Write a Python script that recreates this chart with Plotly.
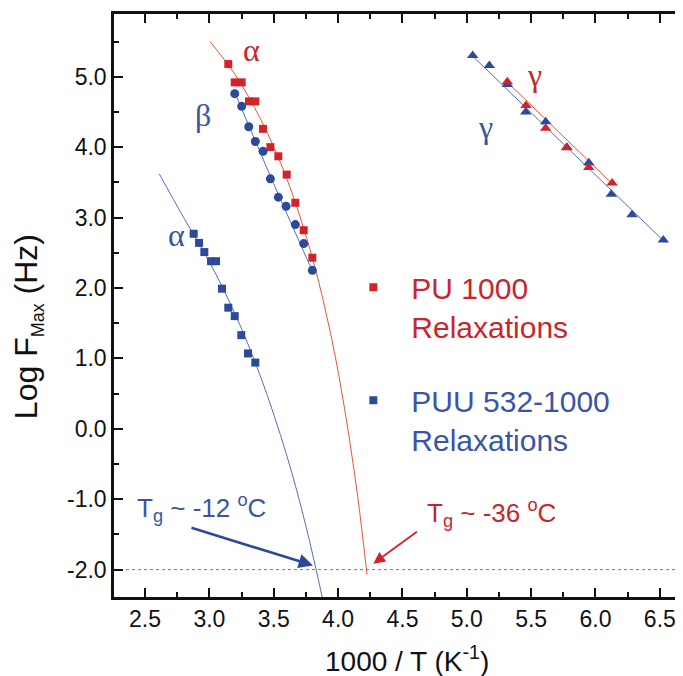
import plotly.graph_objects as go

# ---------------- data ----------------
# PU 1000, alpha relaxation (red squares)
pu_alpha_x = [3.147, 3.197, 3.251, 3.308, 3.357, 3.417, 3.474, 3.536, 3.601, 3.668, 3.733, 3.800]
pu_alpha_y = [5.18, 4.92, 4.92, 4.65, 4.65, 4.26, 4.00, 3.87, 3.61, 3.21, 2.82, 2.43]
# PU 1000, gamma relaxation (red triangles)
pu_gamma_x = [5.315, 5.460, 5.613, 5.777, 5.948, 6.129]
pu_gamma_y = [4.93, 4.59, 4.27, 3.99, 3.71, 3.49]
# PUU 532-1000, alpha relaxation (blue squares)
puu_alpha_x = [2.878, 2.920, 2.961, 3.013, 3.052, 3.098, 3.147, 3.197, 3.248, 3.300, 3.357]
puu_alpha_y = [2.77, 2.64, 2.51, 2.38, 2.38, 1.99, 1.72, 1.60, 1.33, 1.07, 0.94]
# PUU 532-1000, beta relaxation (blue circles)
puu_beta_x = [3.197, 3.251, 3.306, 3.357, 3.417, 3.474, 3.536, 3.596, 3.668, 3.733, 3.800]
puu_beta_y = [4.76, 4.58, 4.29, 4.08, 3.94, 3.55, 3.29, 3.16, 2.90, 2.63, 2.25]
# PUU 532-1000, gamma relaxation (blue triangles)
puu_gamma_x = [5.046, 5.175, 5.315, 5.458, 5.613, 5.777, 5.948, 6.123, 6.284, 6.527]
puu_gamma_y = [5.30, 5.16, 4.89, 4.50, 4.36, 4.00, 3.78, 3.33, 3.04, 2.68]

# fitted curves
pu_alpha_fit_x = [3.005, 3.2, 3.4, 3.6, 3.8, 3.95, 4.05, 4.15, 4.225]
pu_alpha_fit_y = [5.50, 5.03, 4.39, 3.56, 2.43, 1.28, 0.29, -0.93, -2.07]
puu_alpha_fit_x = [2.611, 2.8, 3.0, 3.2, 3.4, 3.6, 3.75, 3.89]
puu_alpha_fit_y = [3.62, 3.00, 2.37, 1.63, 0.73, -0.37, -1.38, -2.50]
puu_beta_fit_x = [3.19, 3.50, 3.81]
puu_beta_fit_y = [4.81, 3.48, 2.20]
pu_gamma_fit_x = [5.30, 6.13]
pu_gamma_fit_y = [4.95, 3.48]
puu_gamma_fit_x = [5.03, 6.54]
puu_gamma_fit_y = [5.32, 2.65]

# axis ticks
x_tickvals = [2.5, 3.0, 3.5, 4.0, 4.5, 5.0, 5.5, 6.0, 6.5]
x_ticktext = ["2.5", "3.0", "3.5", "4.0", "4.5", "5.0", "5.5", "6.0", "6.5"]
y_tickvals = [-2, -1, 0, 1, 2, 3, 4, 5]
y_ticktext = ["-2.0", "-1.0", "0.0", "1.0", "2.0", "3.0", "4.0", "5.0"]

# relaxation labels
relax_labels = ["α", "β", "α", "γ", "γ"]
relax_x = [3.327, 2.951, 2.741, 5.530, 5.142]
relax_y = [5.38, 4.45, 2.75, 5.02, 4.29]
relax_series = ["pu", "puu", "puu", "pu", "puu"]

tg_level = -2.0

# ---------------- styling ----------------
RED = "#d2232a"
BLUE = "#2c4a9a"
RED_LINE = "#e5553c"
BLUE_LINE = "#5b6cb8"
RED_TEXT = "#c9252c"
BLUE_TEXT = "#3a55a5"
FONT = "Liberation Sans, Arial, sans-serif"
SERIF = "Liberation Serif, Times New Roman, serif"


def colored(lines, color):
    return "<br>".join(f"<span style='color:{color}'>{t}</span>" for t in lines)


fig = go.Figure()

def line(x, y, color):
    fig.add_trace(go.Scatter(x=x, y=y, mode="lines", line=dict(color=color, width=1, shape="spline"),
                             showlegend=False, hoverinfo="skip"))

line(pu_alpha_fit_x, pu_alpha_fit_y, RED_LINE)
line(puu_alpha_fit_x, puu_alpha_fit_y, BLUE_LINE)
line(puu_beta_fit_x, puu_beta_fit_y, BLUE_LINE)
line(pu_gamma_fit_x, pu_gamma_fit_y, RED_LINE)
line(puu_gamma_fit_x, puu_gamma_fit_y, BLUE_LINE)

fig.add_trace(go.Scatter(x=pu_alpha_x, y=pu_alpha_y, mode="markers",
                         name=colored(["PU 1000", "Relaxations"], RED_TEXT),
                         marker=dict(symbol="square", size=8, color=RED),
                         legendgroup="pu", showlegend=True))
fig.add_trace(go.Scatter(x=puu_alpha_x, y=puu_alpha_y, mode="markers",
                         name=colored(["PUU 532-1000", "Relaxations"], BLUE_TEXT),
                         marker=dict(symbol="square", size=8, color=BLUE),
                         legendgroup="puu", showlegend=True))
fig.add_trace(go.Scatter(x=puu_beta_x, y=puu_beta_y, mode="markers",
                         marker=dict(symbol="circle", size=9, color=BLUE), showlegend=False))
fig.add_trace(go.Scatter(x=puu_gamma_x, y=puu_gamma_y, mode="markers",
                         marker=dict(symbol="triangle-up", size=10, color=BLUE), showlegend=False))
fig.add_trace(go.Scatter(x=pu_gamma_x, y=pu_gamma_y, mode="markers",
                         marker=dict(symbol="triangle-up", size=10, color=RED), showlegend=False))

# dotted line at log F = -2
fig.add_shape(type="line", xref="paper", x0=0, x1=1, yref="y", y0=tg_level, y1=tg_level,
              line=dict(color="#777777", width=1, dash="dot"), layer="below")

# Greek labels
for t, x, y, s in zip(relax_labels, relax_x, relax_y, relax_series):
    fig.add_annotation(x=x, y=y, text=t, showarrow=False,
                       font=dict(family=SERIF, size=32, color=RED_TEXT if s == "pu" else BLUE_TEXT))

# Tg annotations
fig.add_annotation(x=3.805, y=-1.94, ax=-123, ay=-38, text="", showarrow=True,
                   arrowhead=2, arrowsize=1.1, arrowwidth=2.6, arrowcolor=BLUE)
fig.add_annotation(x=4.274, y=-1.915, ax=45, ay=-33, text="", showarrow=True,
                   arrowhead=2, arrowsize=1.3, arrowwidth=1.8, arrowcolor=RED)
fig.add_annotation(x=2.422, y=-1.12, xanchor="left", text="T<sub>g</sub> ~ -12 <sup>o</sup>C",
                   showarrow=False, font=dict(family=FONT, size=26, color=BLUE_TEXT))
fig.add_annotation(x=4.676, y=-1.19, xanchor="left", text="T<sub>g</sub> ~ -36 <sup>o</sup>C",
                   showarrow=False, font=dict(family=FONT, size=26, color=RED_TEXT))

# axis titles
fig.add_annotation(xref="paper", yref="paper", x=0.515, y=-0.107, yanchor="middle", xanchor="center",
                   text="1000 / T (K<sup>-1</sup>)", showarrow=False,
                   font=dict(family=FONT, size=28, color="#111111"))
fig.add_annotation(xref="paper", yref="paper", x=-0.150, y=0.464, textangle=-90,
                   xanchor="center", yanchor="middle",
                   text="Log F<sub><span style='font-size:18px'>Max</span></sub> (Hz)", showarrow=False,
                   font=dict(family=FONT, size=32, color="#111111"))

axis_common = dict(showline=True, linecolor="#111111", linewidth=2.5, ticks="inside",
                   ticklen=9, tickwidth=2, tickcolor="#111111", showgrid=False, zeroline=False,
                   tickfont=dict(family=FONT, size=23, color="#111111"))

fig.update_xaxes(range=[2.259, 6.680], tickmode="array", tickvals=x_tickvals, ticktext=x_ticktext,
                 mirror="allticks",
                 minor=dict(ticks="inside", ticklen=5, tickwidth=2, tickcolor="#111111", dtick=0.25,
                            tick0=2.25, showgrid=False),
                 **axis_common)
fig.update_yaxes(range=[-2.389, 5.891], tickmode="array", tickvals=y_tickvals, ticktext=y_ticktext,
                 mirror=False,
                 minor=dict(ticks="inside", ticklen=5, tickwidth=2, tickcolor="#111111", dtick=0.5,
                            tick0=0, showgrid=False),
                 **axis_common)

fig.update_layout(
    width=675, height=668,
    margin=dict(l=106, r=0, t=6, b=79, autoexpand=False),
    paper_bgcolor="white", plot_bgcolor="white",
    font=dict(family=FONT),
    showlegend=True,
    legend=dict(x=0.389, y=0.576, xanchor="left", yanchor="top", bgcolor="rgba(0,0,0,0)",
                font=dict(family=FONT, size=30), valign="top", itemwidth=66,
                traceorder="grouped", tracegroupgap=32),
)

fig.write_html("out.html")
